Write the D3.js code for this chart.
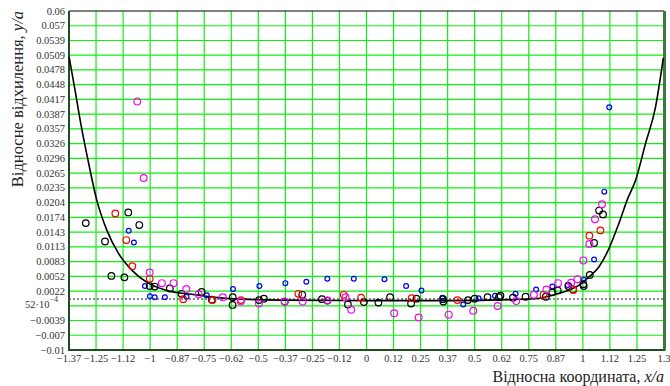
<!DOCTYPE html>
<html>
<head>
<meta charset="utf-8">
<script src="https://cdn.jsdelivr.net/npm/d3@7"></script>
<style>
  body { margin: 0; background: #fff; }
  svg text { font-family: "Liberation Serif", "Times New Roman", serif; }
</style>
</head>
<body>
<svg id="chart" width="670" height="386"></svg>
<script>
// tick values and labels
const xTicks = d3.range(23).map(i => -1.375 + i * 0.125);
const xTickLabels = ['−1.37', '−1.25', '−1.12', '−1', '−0.87', '−0.75', '−0.62', '−0.5', '−0.37', '−0.25', '−0.12', '0',
  '0.12', '0.25', '0.37', '0.5', '0.62', '0.75', '0.87', '1', '1.12', '1.25', '1.3'];
const yTicks = d3.range(24).map(i => -0.01 + i * 0.07 / 23);
const yTickLabels = ['−0.01', '−0.007', '−0.0039', '', '0.0022', '0.0052', '0.0083', '0.0113', '0.0143', '0.0174', '0.0204',
  '0.0235', '0.0265', '0.0296', '0.0326', '0.0357', '0.0387', '0.0417', '0.0448', '0.0478', '0.0509', '0.0539', '0.057', '0.06'];
const markerY = 0.00052;

// fitted curve
const curveX = [-1.3745, -1.3473, -1.3195, -1.2872, -1.247, -1.2007, -1.147, -1.085, -1.009, -0.931, -0.793, -0.632, -0.401, 0, 0.383, 0.66,
  0.798, 0.890, 0.9825, 1.0286, 1.0747, 1.121, 1.167, 1.205, 1.244, 1.290, 1.336, 1.372];
const curveY = [0.0505, 0.0437, 0.0365, 0.0292, 0.0210, 0.0148, 0.0100, 0.0065, 0.0038, 0.0024, 0.0014, 0.0006, 0.0003, 0.0002, 0.0002, 0.0004,
  0.0007, 0.0017, 0.0034, 0.0051, 0.0072, 0.0110, 0.0162, 0.0210, 0.0251, 0.0327, 0.0402, 0.0503];

// measured points, four series
const blackX = [-1.2975, -1.101, -1.050, -1.2085, -1.179, -1.119, -1.002, -0.979, -0.909, -0.855, -0.762, -0.715, -0.618, -0.619,
  -0.497, -0.474, -0.378, -0.297, -0.206, -0.181, -0.086, -0.012, 0.055, 0.109, 0.231, 0.206, 0.354, 0.355, 0.469, 0.4995,
  0.5595, 0.619, 0.612, 0.677, 0.735, 0.829, 0.859, 0.884, 0.933, 0.955, 1.002, 1.004, 1.032, 1.052, 1.075, 1.093];
const blackY = [0.0162, 0.0184, 0.0158, 0.0124, 0.0053, 0.0050, 0.0032, 0.0031, 0.0027, 0.0016, 0.0020, 0.0004, 0.0009, -0.0007,
  0.0003, 0.0006, 0.0000, 0.0014, 0.0005, 0.0002, -0.0006, -0.0001, -0.0002, 0.0009, 0.0006, -0.0004, 0.0005, 0.0000, 0.0003, 0.0006,
  0.0009, 0.0012, 0.0009, 0.0008, 0.0010, 0.0010, 0.0019, 0.0023, 0.0032, 0.0025, 0.0036, 0.0032, 0.0055, 0.0121, 0.0188, 0.0180];

const redX = [-1.161, -1.110, -1.0825, -1.002, -0.847, -0.712, -0.580, -0.315, -0.105, -0.025, 0.209, 0.420, 0.818, 0.956, 1.030, 1.081];
const redY = [0.0182, 0.0127, 0.0073, 0.0047, 0.0005, 0.0003, 0.0003, 0.0016, 0.0014, 0.0008, 0.0007, 0.0003, 0.0014, 0.0024, 0.0136, 0.0147];

const magentaX = [-1.0595, -1.030, -1.002, -0.9456, -0.892, -0.8326, -0.776, -0.664, -0.581, -0.497, -0.378, -0.295, -0.181, -0.097,
  -0.0706, 0.128, 0.241, 0.380, 0.4935, 0.606, 0.692, 0.7735, 0.8316, 0.8856, 0.9456, 0.9746, 1.002, 1.030, 1.056, 1.0886];
const magentaY = [0.0413, 0.0255, 0.0060, 0.0038, 0.0038, 0.0026, 0.0015, 0.0009, 0.0000, -0.0004, 0.0000, 0.0000, 0.0002, 0.0009,
  -0.0017, -0.0024, -0.0033, -0.0027, -0.0019, -0.0009, 0.0001, 0.0014, 0.0025, 0.0038, 0.0039, 0.0046, 0.0085, 0.0119, 0.0170, 0.0201];

const blueX = [-1.099, -1.075, -1.024, -1.001, -0.979, -0.932, -0.8316, -0.738, -0.617, -0.495, -0.375, -0.278, -0.181, -0.0586,
  0.083, 0.183, 0.254, 0.3506, 0.447, 0.518, 0.594, 0.689, 0.784, 0.859, 0.930, 1.004, 1.052, 1.099, 1.122];
const blueY = [0.0146, 0.0122, 0.0032, 0.0011, 0.0009, 0.0009, 0.0010, 0.0013, 0.0026, 0.0032, 0.0038, 0.0041, 0.0047, 0.0047,
  0.0046, 0.0032, 0.0023, 0.0008, -0.0006, 0.0007, 0.0012, 0.0016, 0.0025, 0.0031, 0.0034, 0.0045, 0.0087, 0.0227, 0.0401];

const plotLeft = 69, plotRight = 664, plotTop = 11, plotBottom = 350;
const svg = d3.select('#chart');

const x = d3.scaleLinear().domain([-1.375, 1.375]).range([plotLeft, plotRight]);
const y = d3.scaleLinear().domain([-0.01, 0.06]).range([plotBottom, plotTop]);

// grid
svg.append('g')
  .selectAll('line')
  .data(xTicks.slice(1, -1))
  .enter()
  .append('line')
  .attr('x1', d => x(d)).attr('x2', d => x(d))
  .attr('y1', plotTop).attr('y2', plotBottom)
  .attr('stroke', '#11ee11')
  .attr('stroke-width', 1.2);

svg.append('g')
  .selectAll('line')
  .data(yTicks.slice(1, -1))
  .enter()
  .append('line')
  .attr('x1', plotLeft).attr('x2', plotRight)
  .attr('y1', d => y(d)).attr('y2', d => y(d))
  .attr('stroke', '#11ee11')
  .attr('stroke-width', 1.2);

// marker line
svg.append('line')
  .attr('x1', plotLeft).attr('x2', plotRight)
  .attr('y1', y(markerY)).attr('y2', y(markerY))
  .attr('stroke', '#666')
  .attr('stroke-width', 1.5)
  .attr('stroke-dasharray', '2,2');

// frame
svg.append('line').attr('x1', plotLeft).attr('x2', plotRight).attr('y1', plotTop).attr('y2', plotTop)
  .attr('stroke', '#000').attr('stroke-width', 1);
svg.append('line').attr('x1', plotLeft).attr('x2', plotLeft).attr('y1', plotTop).attr('y2', plotBottom + 1)
  .attr('stroke', '#1e4d1e').attr('stroke-width', 2);
svg.append('line').attr('x1', plotLeft).attr('x2', plotRight + 1.5).attr('y1', plotBottom).attr('y2', plotBottom)
  .attr('stroke', '#1e4d1e').attr('stroke-width', 2);
svg.append('line').attr('x1', plotRight + 0.5).attr('x2', plotRight + 0.5).attr('y1', plotTop).attr('y2', plotBottom)
  .attr('stroke', '#3c7a3c').attr('stroke-width', 3);

// tick labels
svg.append('g')
  .selectAll('text')
  .data(xTicks)
  .enter()
  .append('text')
  .attr('x', d => x(d))
  .attr('y', plotBottom + 12)
  .attr('text-anchor', 'middle')
  .attr('font-size', 10.5)
  .attr('fill', '#333')
  .text((d, i) => xTickLabels[i]);

svg.append('g')
  .selectAll('text')
  .data(yTicks)
  .enter()
  .append('text')
  .attr('x', plotLeft - 4)
  .attr('y', d => y(d) + 3.5)
  .attr('text-anchor', 'end')
  .attr('font-size', 10.5)
  .attr('fill', '#333')
  .text((d, i) => yTickLabels[i]);

const mk = svg.append('text')
  .attr('x', plotLeft - 11)
  .attr('y', y(markerY) + 9)
  .attr('text-anchor', 'end')
  .attr('font-size', 10.5)
  .attr('fill', '#333');
mk.append('tspan').text('52·10');
mk.append('tspan').attr('dy', -6).attr('font-size', 8).text('−4');

// curve
const line = d3.line()
  .x(d => x(d[0]))
  .y(d => y(d[1]))
  .curve(d3.curveMonotoneX);

svg.append('path')
  .datum(curveX.map((v, i) => [v, curveY[i]]))
  .attr('d', line)
  .attr('fill', 'none')
  .attr('stroke', '#000')
  .attr('stroke-width', 1.6);

// points
const series = [
  { xs: blueX, ys: blueY, color: '#0000ff', r: 2.4 },
  { xs: blackX, ys: blackY, color: '#000000', r: 3.3 },
  { xs: redX, ys: redY, color: '#ff0000', r: 3.3 },
  { xs: magentaX, ys: magentaY, color: '#ff00ff', r: 3.4 }
];

series.forEach(s => {
  svg.append('g')
    .selectAll('circle')
    .data(s.xs.map((v, i) => [v, s.ys[i]]))
    .enter()
    .append('circle')
    .attr('cx', d => x(d[0]))
    .attr('cy', d => y(d[1]))
    .attr('r', s.r)
    .attr('fill', 'none')
    .attr('stroke', s.color)
    .attr('stroke-width', 1.2);
});

// axis titles
const yt = svg.append('text')
  .attr('transform', 'translate(23,11) rotate(-90)')
  .attr('text-anchor', 'end')
  .attr('font-size', 16.5)
  .attr('fill', '#222');
yt.append('tspan').text('Відносне відхилення,  ');
yt.append('tspan').attr('font-style', 'italic').text('y/a');

const xt = svg.append('text')
  .attr('x', 664)
  .attr('y', 382)
  .attr('text-anchor', 'end')
  .attr('font-size', 16)
  .attr('fill', '#222');
xt.append('tspan').text('Відносна координата, ');
xt.append('tspan').attr('font-style', 'italic').text('x/a');
</script>
</body>
</html>
